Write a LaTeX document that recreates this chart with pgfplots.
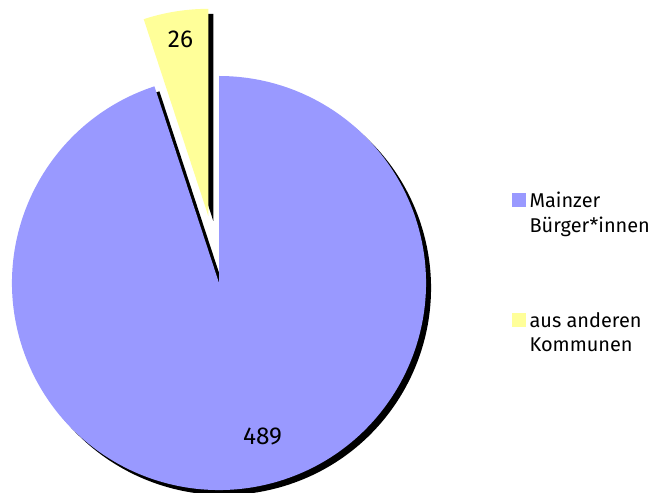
\documentclass[border=0pt]{standalone}
\usepackage{pgfplots}
\usepackage{pgfplotstable}
\pgfplotsset{compat=1.18}
\usepackage{fontspec}
\setmainfont{Fira Sans}
\definecolor{pieblue}{HTML}{9999FF}
\definecolor{pieyellow}{HTML}{FFFF99}

\pgfplotstableread{
label value
Mainzer 489
Andere 26
}\piedata

\begin{document}
\begin{tikzpicture}
\pgfplotstablegetelem{0}{value}\of\piedata \let\va\pgfplotsretval
\pgfplotstablegetelem{1}{value}\of\piedata \let\vb\pgfplotsretval
\pgfmathsetmacro\angB{360*\vb/(\va+\vb)}
\pgfmathsetmacro\angEnd{90+\angB}
\pgfmathsetmacro\angMid{90+\angB/2}
\pgfmathsetmacro\ex{68*cos(\angMid)}
\pgfmathsetmacro\ey{68*sin(\angMid)}
\begin{axis}[
  width=654bp, height=493bp, scale only axis,
  xmin=0, xmax=654, ymin=0, ymax=493,
  hide axis, clip=false,
  legend style={draw=none, fill=none, at={(axis cs:509,303)}, anchor=north west,
    legend cell align=left, font=\fontsize{20}{25}\selectfont,
    row sep=78bp, nodes={align=left, inner sep=0pt}},
]
% shadows
\fill[black] (axis cs:224,205) -- ++(\angEnd:207bp) arc[start angle=\angEnd, end angle=450, radius=207bp] -- cycle;
\fill[black] (axis cs:224,205) ++(\ex bp,\ey bp) -- ++(90:207bp) arc[start angle=90, end angle=\angEnd, radius=207bp] -- cycle;
% slices
\fill[pieblue] (axis cs:219,210) -- ++(\angEnd:207bp) arc[start angle=\angEnd, end angle=450, radius=207bp] -- cycle;
\fill[pieyellow] (axis cs:219,210) ++(\ex bp,\ey bp) -- ++(90:207bp) arc[start angle=90, end angle=\angEnd, radius=207bp] -- cycle;
% labels
\node[font=\fontsize{24.5}{28}\selectfont] at (axis cs:180.5,454) {\vb};
\node[font=\fontsize{24.5}{28}\selectfont] at (axis cs:262.5,56.5) {\va};
\addlegendimage{legend image code/.code={\fill[pieblue] (0bp,7bp) rectangle (12.5bp,19.5bp); \path (17bp,7bp);}}
\addlegendentry{Mainzer\\Bürger*innen}
\addlegendimage{legend image code/.code={\fill[pieyellow] (0bp,7bp) rectangle (12.5bp,19.5bp); \path (17bp,7bp);}}
\addlegendentry{aus anderen\\Kommunen}
\end{axis}
\pgfresetboundingbox
\path (0,0) rectangle (654bp,493bp);
\end{tikzpicture}
\end{document}
